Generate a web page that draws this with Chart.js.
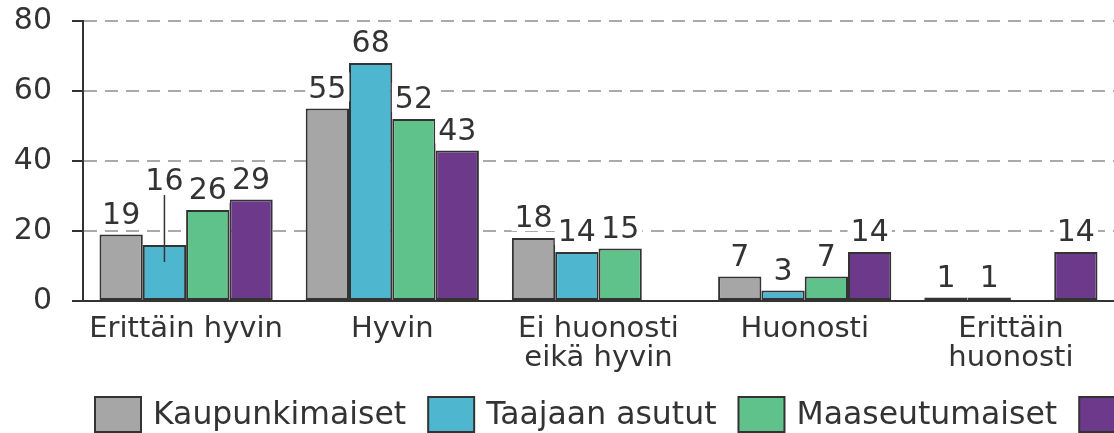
<!DOCTYPE html>
<html>
<head>
<meta charset="utf-8">
<script src="https://cdn.jsdelivr.net/npm/chart.js@4"></script>
<style>
  html, body { margin: 0; padding: 0; background: #fff; overflow: hidden; }
  #wrap { width: 1114px; height: 433px; }
</style>
</head>
<body>
<div id="wrap"><canvas id="chart" width="1114" height="433"></canvas></div>
<script>
// ─── data ───
const categories = ['Erittäin hyvin', 'Hyvin', ['Ei huonosti', 'eikä hyvin'], 'Huonosti', ['Erittäin', 'huonosti']];
const seriesNames = ['Kaupunkimaiset', 'Taajaan asutut', 'Maaseutumaiset', 'Harvaan asutut'];
const kaupunki = [19, 55, 18, 7, 1];
const taajaan  = [16, 68, 14, 3, 1];
const maaseutu = [26, 52, 15, 7, null];
const harvaan  = [29, 43, null, 14, 14];
const yTicks = [0, 20, 40, 60, 80];

const colors = ['#a6a6a6', '#4fb6d0', '#60c28b', '#6c398b'];
const ink = '#333333';
const FONT = "'DejaVu Sans', Verdana, sans-serif";

// which label gets lifted with a leader line: [dataset, index]
const leaderLabel = [1, 0];

const valueLabels = {
  id: 'valueLabels',
  afterDatasetsDraw(chart) {
    const ctx = chart.ctx;
    ctx.save();
    ctx.font = '30px ' + FONT;
    ctx.textAlign = 'center';
    ctx.textBaseline = 'alphabetic';
    chart.data.datasets.forEach((ds, di) => {
      chart.getDatasetMeta(di).data.forEach((bar, i) => {
        const v = ds.data[i];
        if (v == null) return;
        let y = bar.y - 11;
        if (di === leaderLabel[0] && i === leaderLabel[1]) {
          y -= 44;
          ctx.strokeStyle = ink;
          ctx.lineWidth = 1.5;
          ctx.beginPath();
          ctx.moveTo(bar.x, y + 5);
          ctx.lineTo(bar.x, bar.y + 17);
          ctx.stroke();
        }
        const txt = String(v);
        const w = ctx.measureText(txt).width;
        ctx.fillStyle = '#ffffff';
        ctx.fillRect(bar.x - w / 2 - 3, y - 25, w + 6, 29);
        ctx.fillStyle = ink;
        ctx.fillText(txt, bar.x, y);
      });
    });
    ctx.restore();
  }
};

const bottomLegend = {
  id: 'bottomLegend',
  afterDraw(chart) {
    const ctx = chart.ctx;
    ctx.save();
    ctx.font = '31.5px ' + FONT;
    ctx.textBaseline = 'middle';
    let x = 95;
    const top = 397, bw = 46, bh = 35;
    chart.data.datasets.forEach(ds => {
      ctx.fillStyle = ds.backgroundColor;
      ctx.fillRect(x, top, bw, bh);
      ctx.strokeStyle = ink;
      ctx.lineWidth = 2;
      ctx.strokeRect(x, top, bw, bh);
      x += bw + 12;
      ctx.fillStyle = ink;
      ctx.fillText(ds.label, x, top + bh / 2 + 1);
      x += ctx.measureText(ds.label).width + 22;
    });
    ctx.restore();
  }
};

const seriesData = [kaupunki, taajaan, maaseutu, harvaan];

new Chart(document.getElementById('chart'), {
  type: 'bar',
  data: {
    labels: categories,
    datasets: seriesData.map((d, i) => ({
      label: seriesNames[i],
      data: d,
      backgroundColor: colors[i],
      borderColor: ink,
      borderWidth: 2,
      borderSkipped: false,
      barPercentage: 1,
      categoryPercentage: 0.84
    }))
  },
  options: {
    responsive: false,
    animation: false,
    layout: { padding: { top: 21, right: 0, bottom: 50, left: 0 } },
    plugins: { legend: { display: false }, tooltip: { enabled: false } },
    scales: {
      x: {
        grid: { display: false },
        border: { display: true, color: ink, width: 2, z: 1 },
        ticks: { color: ink, font: { family: FONT, size: 29, lineHeight: 1.0 }, padding: 6, maxRotation: 0, autoSkip: false },
        afterFit: s => { s.height = 82; }
      },
      y: {
        min: 0, max: 80,
        afterBuildTicks: s => { s.ticks = yTicks.map(v => ({ value: v })); },
        grid: {
          color: c => c.tick && c.tick.value === 0 ? 'rgba(0,0,0,0)' : '#aaaaaa',
          lineWidth: 2,
          tickColor: ink, tickLength: 11, tickWidth: 2
        },
        border: { display: true, color: ink, width: 2, dash: [13, 8] },
        ticks: { color: ink, font: { family: FONT, size: 30 }, padding: 20 },
        afterFit: s => { s.width = 83; s.paddingTop = 0; s.paddingBottom = 0; }
      }
    }
  },
  plugins: [valueLabels, bottomLegend]
});
</script>
</body>
</html>
